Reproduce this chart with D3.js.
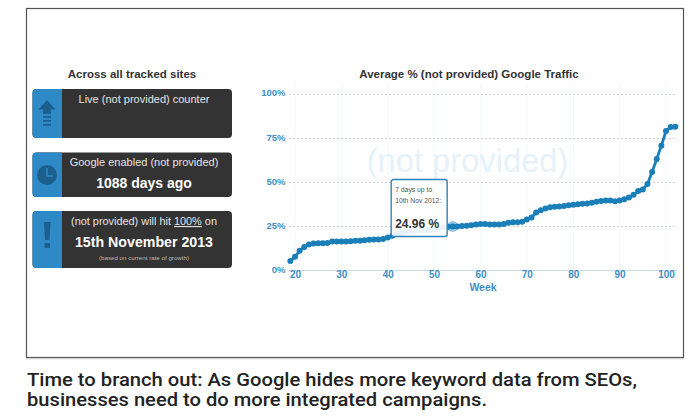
<!DOCTYPE html>
<html><head><meta charset="utf-8">
<script src="https://cdn.jsdelivr.net/npm/d3@7/dist/d3.min.js"></script>
<style>html,body{margin:0;padding:0;background:#fff}svg{display:block}text{font-family:"Liberation Sans",Arial,sans-serif}</style>
</head><body><svg id="c" width="700" height="420"></svg>
<script>
const firstWeek = 19;
const traffic = [5.4,7.8,11.2,13.3,14.7,15.3,15.5,15.5,15.6,16.4,16.4,16.5,16.5,16.6,16.8,16.9,17.2,17.4,17.5,17.5,17.9,18.7,19.7,
20.7,21.4,22.0,22.4,22.6,22.7,22.8,23.0,23.4,23.8,24.4,24.8,24.96,
25.0,25.2,25.4,25.7,26.0,26.4,26.4,26.1,26.0,26.0,26.3,27.0,27.4,27.4,27.6,28.9,30.0,32.8,34.2,35.1,35.8,36.1,36.3,36.6,37.0,37.3,37.5,37.8,38.0,38.4,39.0,39.4,39.7,39.7,39.3,39.6,40.3,41.3,42.9,45.0,45.9,49.0,55.8,63.2,70.7,79.0,81.3,81.5];
const weeks = traffic.map((_,i)=>firstWeek+i);
const weekTicks = [20,30,40,50,60,70,80,90,100];
const pctTicks = [0,25,50,75,100];
const hoverWeek = 54, hoverValue = 24.96;
const leftTitle = "Across all tracked sites";
const chartTitle = "Average % (not provided) Google Traffic";
const caption = ["Time to branch out: As Google hides more keyword data from SEOs,","businesses need to do more integrated campaigns."];
const captionWidths = [610,460];

const BLUE="#2e8ac6", LINE="#1a7fb8", AXIS="#3f8fc4", DARK="#333333", ICON="#1b5f8e";
const svg=d3.select("#c");
// frame
svg.append("rect").attr("x",26.5).attr("y",8.5).attr("width",657).attr("height",349).attr("fill","#fff").attr("stroke","#555").attr("stroke-width",1.2);
svg.append("line").attr("x1",26).attr("x2",684).attr("y1",358.8).attr("y2",358.8).attr("stroke","#ccc");

// caption
svg.append("g").selectAll("text").data(caption).join("text")
 .attr("x",27).attr("y",(d,i)=>385.5+i*20.5).attr("fill","#222").attr("font-size",17.5).attr("font-weight",500)
 .attr("textLength",(d,i)=>captionWidths[i]).attr("lengthAdjust","spacingAndGlyphs")
 .style("font-family","Roboto").text(d=>d);

// left
svg.append("text").attr("x",132).attr("y",78).attr("text-anchor","middle").attr("font-size",11.5).attr("font-weight","bold").attr("fill","#333").text(leftTitle);
const panels=[{y:89,h:49},{y:152.5,h:44.5},{y:211,h:57}];
panels.forEach(p=>{
 svg.append("rect").attr("x",32.5).attr("y",p.y).attr("width",199.5).attr("height",p.h).attr("rx",4).attr("fill",DARK);
 svg.append("path").attr("d",`M62 ${p.y}H36.5a4 4 0 0 0 -4 4V${p.y+p.h-4}a4 4 0 0 0 4 4H62Z`).attr("fill",BLUE);
});
function label(t,y,size,weight,fill){return svg.append("text").attr("x",144).attr("y",y).attr("text-anchor","middle").attr("font-size",size).attr("font-weight",weight||"normal").attr("fill",fill||"#e4e4e4").text(t);}
label("Live (not provided) counter",103,11);
label("Google enabled (not provided)",166,11);
label("1088 days ago",188,14,"bold","#fff");
const l=label("(not provided) will hit ",225,10.9);
l.append("tspan").attr("text-decoration","underline").text("100%");
l.append("tspan").text(" on");
label("15th November 2013",247,14.2,"bold","#fff");
label("(based on current rate of growth)",260,6.2,"normal","#bbb");
// icons
svg.append("path").attr("d","M47 100L38.5 109.5H43V114H51V109.5H55.5Z").attr("fill",ICON);
svg.append("g").selectAll("rect").data([116,120,124]).join("rect").attr("x",43).attr("y",d=>d).attr("width",8).attr("height",1.8).attr("fill",ICON);
svg.append("circle").attr("cx",47).attr("cy",175).attr("r",10).attr("fill",ICON);
svg.append("path").attr("d","M47 168V176H53").attr("fill","none").attr("stroke",BLUE).attr("stroke-width",1.4);
svg.append("path").attr("d","M44 222H50.5L49.5 240H45Z").attr("fill",ICON);
svg.append("rect").attr("x",44.5).attr("y",243).attr("width",5.5).attr("height",5).attr("fill",ICON);

// chart
const x=d3.scaleLinear().domain([20,100]).range([295,666]);
const y=d3.scaleLinear().domain([0,100]).range([270.5,94]);
svg.append("text").attr("x",469).attr("y",78).attr("text-anchor","middle").attr("font-size",11.5).attr("font-weight","bold").attr("fill","#333").text(chartTitle);
// vertical faint grid
svg.append("g").selectAll("line").data(weekTicks).join("line").attr("x1",d=>x(d)).attr("x2",d=>x(d)).attr("y1",y(100)-12).attr("y2",y(0)).attr("stroke","#f3f8fc");
svg.append("text").attr("x",467.5).attr("y",172).attr("text-anchor","middle").attr("font-size",32.7).attr("fill","#e6f1f9").text("(not provided)");
// horizontal grid
svg.append("g").selectAll("line").data(pctTicks.filter(d=>d>0)).join("line").attr("x1",289).attr("x2",677).attr("y1",d=>Math.round(y(d))+.5).attr("y2",d=>Math.round(y(d))+.5).attr("stroke","#d2d2d2").attr("stroke-dasharray","2,2");
// axes
const xa=svg.append("g").attr("transform",`translate(0,${y(0)})`).call(d3.axisBottom(x).tickValues(weekTicks).tickSize(0).tickPadding(0));
xa.select(".domain").attr("d","M289,0H677").attr("stroke","#c6d9e8");
xa.selectAll("text").attr("font-size",10).attr("font-weight","bold").attr("fill",AXIS).style("font-family","Liberation Sans");
const ya=svg.append("g").attr("transform","translate(285.5,0)").call(d3.axisLeft(y).tickValues(pctTicks).tickFormat(d=>d+"%").tickSize(0).tickPadding(0));
ya.select(".domain").remove();
ya.selectAll("text").attr("font-size",9.5).attr("font-weight","bold").attr("fill",AXIS).style("font-family","Liberation Sans").attr("dy","0.2em");
svg.append("text").attr("x",483).attr("y",291).attr("text-anchor","middle").attr("font-size",10.5).attr("font-weight","bold").attr("fill",AXIS).text("Week");
// series
const line=d3.line().x(d=>x(d)).y((d,i)=>y(traffic[i]));
svg.append("path").attr("d",line(weeks)).attr("fill","none").attr("stroke",LINE).attr("stroke-width",2.8);
svg.append("g").selectAll("circle").data(weeks).join("circle").attr("cx",d=>x(d)).attr("cy",(d,i)=>y(traffic[i])).attr("r",3).attr("fill",LINE);
svg.append("circle").attr("cx",x(hoverWeek)).attr("cy",y(hoverValue)).attr("r",5.5).attr("fill",LINE).attr("fill-opacity",.45);
// tooltip
const tipX=x(hoverWeek)-61.5, tipY=y(hoverValue)-47;
const tip=svg.append("g").attr("transform",`translate(${tipX},${tipY})`);
tip.append("rect").attr("width",56).attr("height",57).attr("rx",2.5).attr("fill","#fff").attr("fill-opacity",.9).attr("stroke","#2b85bf").attr("stroke-width",1.4);
tip.append("text").attr("x",4).attr("y",12.5).attr("font-size",6.8).attr("fill","#555").text("7 days up to");
tip.append("text").attr("x",4).attr("y",23.5).attr("font-size",6.8).attr("fill","#555").text("10th Nov 2012:");
tip.append("text").attr("x",4).attr("y",49).attr("font-size",12).attr("font-weight","bold").attr("fill","#333").text(hoverValue+" %");
</script></body></html>
